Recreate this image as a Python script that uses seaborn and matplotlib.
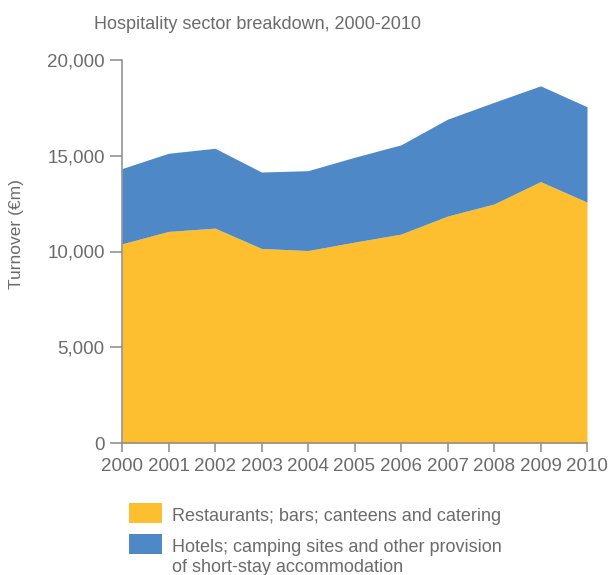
import numpy as np
import matplotlib
matplotlib.use("Agg")
import matplotlib.pyplot as plt
import seaborn as sns
from matplotlib.patches import Rectangle
from matplotlib.ticker import FuncFormatter

# --- data (turnover, EUR millions) ---
years = [2000, 2001, 2002, 2003, 2004, 2005, 2006, 2007, 2008, 2009, 2010]
restaurants = [10400, 11050, 11220, 10160, 10050, 10490, 10910, 11850, 12480, 13650, 12580]
hotels = [3930, 4080, 4170, 3990, 4170, 4430, 4660, 5060, 5310, 5000, 4980]

label_rest = "Restaurants; bars; canteens and catering"
label_hotel = "Hotels; camping sites and other provision\nof short-stay accommodation"

yellow = "#FDBF30"
blue = "#4F88C6"
grey = "#6b6b6b"

W, H = 611, 575

sns.set_theme(style="ticks")
plt.rcParams['font.family'] = ['Liberation Sans', 'DejaVu Sans']

fig = plt.figure(figsize=(W / 100, H / 100), dpi=100)
ax = fig.add_axes([122 / W, 1 - 443 / H, (587 - 122) / W, (443 - 60) / H])

ax.stackplot(years, restaurants, hotels, colors=[yellow, blue], linewidth=0)

ax.set_xlim(2000, 2010)
ax.set_ylim(0, 20000)
ax.set_xticks(years)
ax.set_yticks([0, 5000, 10000, 15000, 20000])
ax.yaxis.set_major_formatter(FuncFormatter(lambda v, p: f"{int(v):,}"))

sns.despine(ax=ax)
for s in ["left", "bottom"]:
    ax.spines[s].set_color("#8a8a8a")
    ax.spines[s].set_linewidth(1.1)
ax.tick_params(axis="y", length=8.5, width=1.1, color="#8a8a8a", labelsize=13.5, labelcolor=grey, pad=4)
ax.tick_params(axis="x", length=6.5, width=1.1, color="#8a8a8a", labelsize=13.5, labelcolor=grey, pad=4)

# axis label and title placed like the original layout
fig.text(17 / W, 1 - 234 / H, "Turnover (€m)", rotation=90, ha="center", va="center",
         fontsize=12.5, color=grey)
fig.text(258 / W, 1 - 29 / H, "Hospitality sector breakdown, 2000-2010", ha="center",
         va="baseline", fontsize=13, color=grey)

# legend below the plot
legend_items = [(yellow, label_rest, 503), (blue, label_hotel, 534)]
for color, label, top in legend_items:
    fig.add_artist(Rectangle((129 / W, 1 - (top + 20) / H), 33 / W, 20 / H,
                             transform=fig.transFigure, facecolor=color, edgecolor="none"))
    for i, line in enumerate(label.split("\n")):
        fig.text(172 / W, 1 - (top + 18 + 20 * i) / H, line, ha="left", va="baseline",
                 fontsize=13, color=grey)

fig.savefig("out.png", dpi=100)
